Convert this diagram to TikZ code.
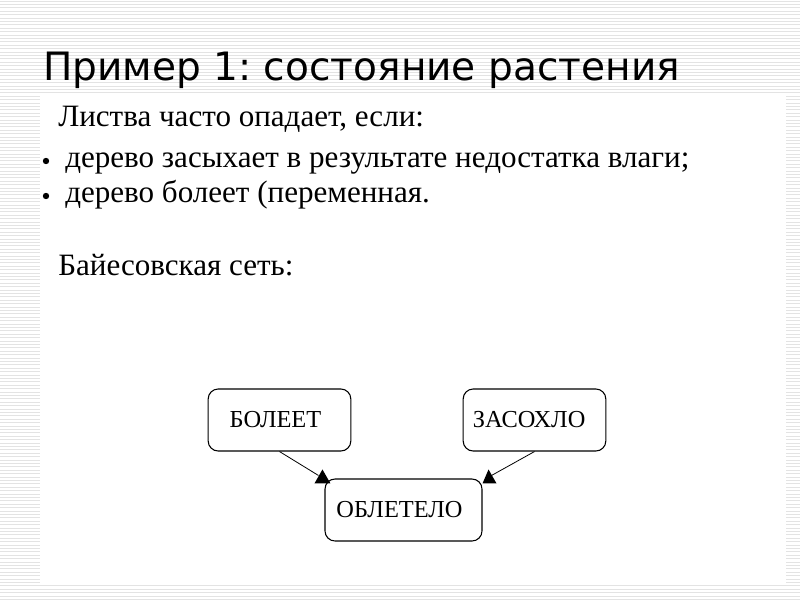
\documentclass[tikz,border=0pt]{standalone}
\usepackage{fontspec}
\setmainfont{Liberation Serif}
\newfontfamily\titlefont{DejaVu Sans}
\frenchspacing
\begin{document}
\begin{tikzpicture}[x=0.75pt,y=-0.75pt,
  stripe/.style={draw=gray!22,line width=0.7pt},
  bodytext/.style={anchor=base west,inner sep=0pt,font=\fontsize{23.3}{27}\selectfont},
  var/.style={draw=black,line width=0.8pt,rounded corners=7.5pt,minimum width=107pt,minimum height=46.5pt,inner sep=0pt,font=\fontsize{18.3}{21}\selectfont},
  headtip/.style={fill=black}]
\useasboundingbox (0,0) rectangle (800,600);
\fill[white] (0,0) rectangle (800,600);
\foreach \i in {0,...,176} \draw[stripe] (0,\i*3.4+1) -- (800,\i*3.4+1);
\fill[white] (40,95) rectangle (786,583);
\node[anchor=base west,inner sep=0pt,font=\titlefont\fontsize{29.3}{33}\selectfont] (title) at (43,80) {Пример 1: состояние растения};
\node[bodytext] (l1) at (58,126) {Листва часто опадает, если:};
\node[bodytext] (l2) at (65,167) {дерево засыхает в результате недостатка влаги;};
\node[bodytext] (l3) at (65,202) {дерево болеет (переменная.};
\node[bodytext] (l4) at (58,275) {Байесовская сеть:};
\fill (46,161) circle[radius=3.2] coordinate (bul1);
\fill (46,196) circle[radius=3.2] coordinate (bul2);
\node[var] (b) at (279.5,420) {\hspace*{-6pt}БОЛЕЕТ};
\node[var] (z) at (534.5,420) {\hspace*{-8pt}ЗАСОХЛО};
\node[var,minimum width=117.75pt] (o) at (403.5,510) {\raisebox{-5pt}{\hspace*{-6pt}ОБЛЕТЕЛО}};
\coordinate (ta) at ([shift={(-6,-3)}]o.north west);
\coordinate (td) at ([shift={(9,-3)}]o.north east);
\draw[line width=0.6pt] (b.south) -- (ta);
\draw[line width=0.6pt] (z.south) -- (td);
\fill[headtip] ([shift={(-10,5)}]o.north west) -- ([shift={(-2,-9)}]o.north west) -- ([shift={(6,5)}]o.north west) -- cycle;
\fill[headtip] ([shift={(0,5)}]o.north east) -- ([shift={(6,-9)}]o.north east) -- ([shift={(14,5)}]o.north east) -- cycle;
\end{tikzpicture}
\end{document}
